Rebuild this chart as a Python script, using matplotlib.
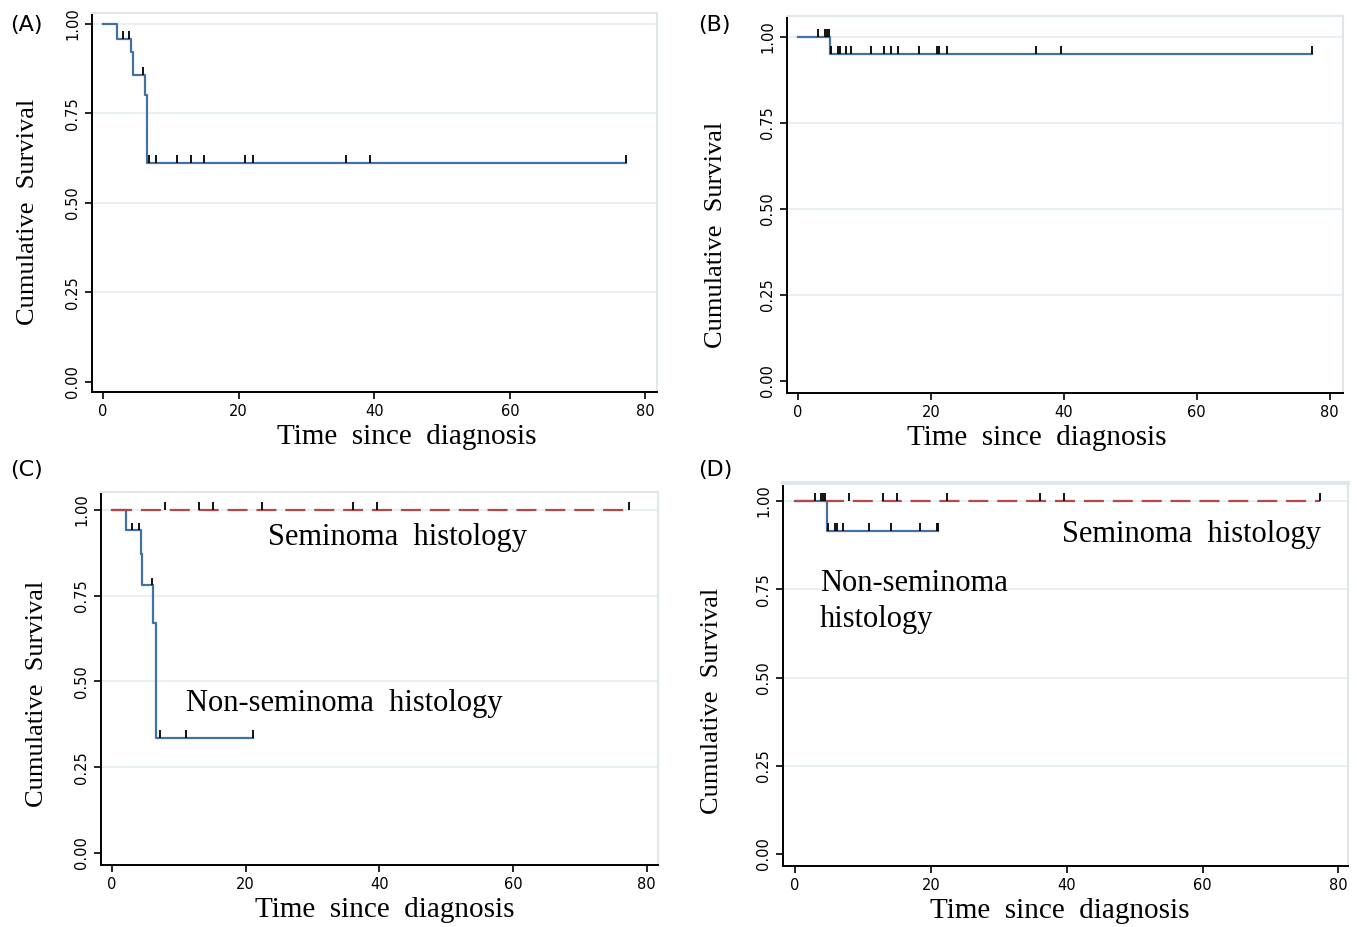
import matplotlib
matplotlib.use("Agg")
import matplotlib.pyplot as plt
import numpy as np

# Panel A - all patients
a_times = [0, 2.1, 4.1, 4.4, 6.2, 6.5, 77.2]
a_surv = [1.0, 0.958, 0.92, 0.857, 0.80, 0.611, 0.611]
a_cens = [3.0, 3.9, 5.9, 6.8, 7.8, 10.9, 13.0, 14.9, 21.0, 22.1, 35.9, 39.4, 77.2]

# Panel B
b_times = [0, 4.8, 77.3]
b_surv = [1.0, 0.95, 0.95]
b_cens = [3.0, 4.0, 4.3, 4.6, 5.0, 6.0, 6.3, 7.2, 8.0, 11.0, 13.0, 14.0, 15.0,
          18.2, 20.9, 21.2, 22.4, 35.8, 39.6, 77.3]

# Panel C - by histology
c_sem_times = [0, 77.3]
c_sem_surv = [1.0, 1.0]
c_sem_cens = [7.9, 13.0, 15.1, 22.5, 36.0, 39.6, 77.3]
c_non_times = [0, 2.1, 4.3, 4.5, 6.2, 6.6, 21.1]
c_non_surv = [1.0, 0.94, 0.87, 0.78, 0.67, 0.335, 0.335]
c_non_cens = [3.0, 4.0, 6.0, 7.2, 11.1, 21.1]

# Panel D - by histology
d_sem_times = [0, 77.3]
d_sem_surv = [1.0, 1.0]
d_sem_cens = [2.9, 3.8, 4.1, 4.4, 8.0, 13.0, 15.0, 22.4, 36.0, 39.6, 77.3]
d_non_times = [0, 4.7, 21.0]
d_non_surv = [1.0, 0.915, 0.915]
d_non_cens = [4.9, 5.9, 6.2, 7.0, 10.9, 14.1, 18.4, 20.9, 21.0]

BLUE = "#4271a3"
RED = "#b5484a"
GRID = "#e4edf1"
FRAME = "#dfe7eb"
SERIF = "Liberation Serif"


def surv_at(times, surv, t):
    i = np.searchsorted(times, t, side="right") - 1
    return surv[i]


def km(ax, times, surv, cens, color, dashed=False, tick_h=0.022):
    ls = (0, (9, 4)) if dashed else "-"
    ax.step(times, surv, where="post", color=color, lw=1.6, ls=ls, zorder=3)
    ys = [surv_at(times, surv, t) for t in cens]
    ax.vlines(cens, ys, np.array(ys) + tick_h, color="black", lw=1.3, zorder=4)


def setup(ax, xlim, ylim, ypad, xl_x, yl_y):
    ax.set_xlim(*xlim)
    ax.set_ylim(*ylim)
    ax.set_xticks([0, 20, 40, 60, 80])
    ax.set_yticks([0, 0.25, 0.5, 0.75, 1.0])
    ax.set_yticklabels(["0.00", "0.25", "0.50", "0.75", "1.00"], rotation=90, va="center")
    ax.tick_params(labelsize=10.5, length=5, width=1.2, colors="black")
    for y in [0.25, 0.5, 0.75, 1.0]:
        ax.axhline(y, color=GRID, lw=1.2, zorder=1)
    ax.spines["left"].set_linewidth(1.4)
    ax.spines["bottom"].set_linewidth(1.4)
    ax.spines["top"].set_color(FRAME)
    ax.spines["right"].set_color(FRAME)
    ax.spines["top"].set_linewidth(1.5)
    ax.spines["right"].set_linewidth(1.5)
    ax.set_xlabel("Time  since  diagnosis", family=SERIF, fontsize=21, labelpad=4)
    ax.set_ylabel("Cumulative  Survival", family=SERIF, fontsize=19, labelpad=ypad)
    ax.xaxis.label.set_x(xl_x)
    ax.yaxis.label.set_y(yl_y)


W, H = 1357, 927
fig = plt.figure(figsize=(W / 100, H / 100), dpi=100)


def add_axes(l, r, t, b):
    return fig.add_axes([l / W, 1 - b / H, (r - l) / W, (b - t) / H])


axA = add_axes(92, 657, 13, 392)
setup(axA, (-1.6, 81.7), (-0.028, 1.03), 19, 0.557, 0.475)
km(axA, a_times, a_surv, a_cens, BLUE)

axB = add_axes(787, 1343, 16, 393)
setup(axB, (-1.66, 82.0), (-0.035, 1.06), 24, 0.45, 0.419)
km(axB, b_times, b_surv, b_cens, BLUE)

axC = add_axes(101, 658, 492, 865)
setup(axC, (-1.65, 81.7), (-0.035, 1.052), 19, 0.51, 0.458)
km(axC, c_non_times, c_non_surv, c_non_cens, BLUE)
km(axC, c_sem_times, c_sem_surv, c_sem_cens, RED, dashed=True)
axC.text(23.4, 0.918, "Seminoma  histology", family=SERIF, fontsize=22, va="center")
axC.text(11.1, 0.437, "Non-seminoma  histology", family=SERIF, fontsize=22, va="center")

axD = add_axes(783, 1348, 483, 866)
setup(axD, (-1.77, 81.4), (-0.034, 1.051), 24, 0.49, 0.431)
axD.spines["top"].set_linewidth(3)
km(axD, d_non_times, d_non_surv, d_non_cens, BLUE)
km(axD, d_sem_times, d_sem_surv, d_sem_cens, RED, dashed=True)
axD.text(39.3, 0.906, "Seminoma  histology", family=SERIF, fontsize=22, va="center")
axD.text(3.7, 0.716, "Non-seminoma\nhistology", family=SERIF, fontsize=22,
         va="center", linespacing=1.3)

for lab, x, y in [("(A)", 10, 25), ("(B)", 698, 25), ("(C)", 10, 470), ("(D)", 698, 470)]:
    fig.text(x / W, 1 - y / H, lab, fontsize=16, va="center", ha="left")

fig.savefig("out.png", dpi=100)
